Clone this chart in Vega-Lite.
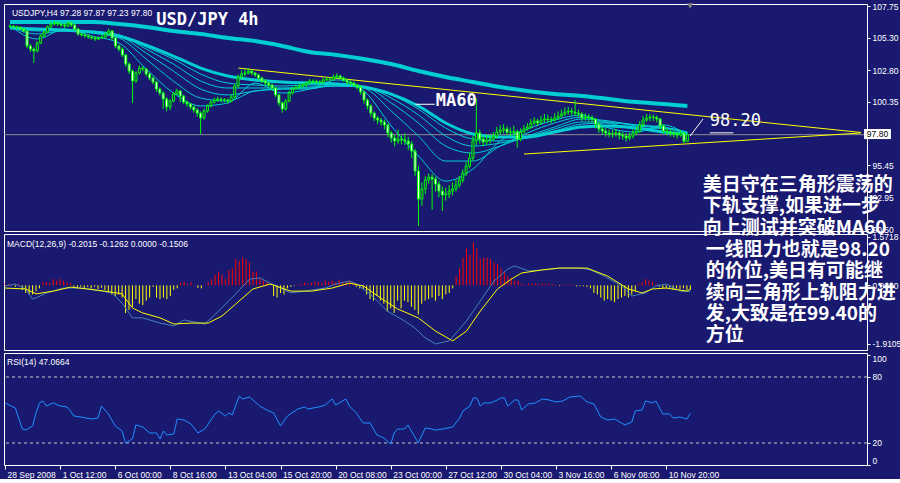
{
"$schema": "https://vega.github.io/schema/vega-lite/v6.json",
"background": "#191970",
"padding": {"left": 1, "top": 1, "right": 0, "bottom": 0},
"bounds": "flush",
"spacing": 3,
"config": {
  "view": {"stroke": "#FFFFFF", "strokeWidth": 1},
  "axis": {"labelColor": "#FFFFFF", "tickColor": "#FFFFFF", "domain": false, "grid": false, "labelFont": "Liberation Sans", "labelFontSize": 8.5, "tickSize": 3, "labelOverlap": false, "labelPadding": 2},
  "text": {"font": "Liberation Sans", "color": "#FFFFFF"}
},
"datasets": {
"bars": [
{"i":0,"o":106.15,"h":106.32,"l":106.05,"c":106.2,"m":0.05},
{"i":1,"o":106.2,"h":106.28,"l":106.02,"c":106.13,"m":0.05},
{"i":2,"o":106.13,"h":106.22,"l":105.98,"c":106.1,"m":0.03},
{"i":3,"o":106.1,"h":106.18,"l":105.9,"c":105.97,"m":-0.05},
{"i":4,"o":105.97,"h":106.05,"l":105.7,"c":105.82,"m":0.05},
{"i":5,"o":105.82,"h":105.9,"l":104.5,"c":104.66,"m":-0.15},
{"i":6,"o":104.66,"h":104.8,"l":104.2,"c":104.42,"m":-0.25},
{"i":7,"o":104.42,"h":104.55,"l":103.34,"c":104.27,"m":-0.3},
{"i":8,"o":104.27,"h":105.0,"l":104.15,"c":104.89,"m":-0.3},
{"i":9,"o":104.89,"h":105.55,"l":104.8,"c":105.43,"m":-0.2},
{"i":10,"o":105.43,"h":105.85,"l":105.35,"c":105.74,"m":-0.1},
{"i":11,"o":105.74,"h":106.25,"l":105.65,"c":106.13,"m":0.1},
{"i":12,"o":106.13,"h":106.5,"l":106.05,"c":106.36,"m":0.1},
{"i":13,"o":106.36,"h":106.6,"l":106.25,"c":106.44,"m":0.08},
{"i":14,"o":106.44,"h":106.55,"l":106.2,"c":106.36,"m":0.2},
{"i":15,"o":106.36,"h":106.45,"l":106.15,"c":106.28,"m":0.15},
{"i":16,"o":106.28,"h":106.4,"l":106.05,"c":106.2,"m":0.2},
{"i":17,"o":106.2,"h":106.58,"l":106.12,"c":106.44,"m":0.15},
{"i":18,"o":106.44,"h":106.52,"l":106.15,"c":106.28,"m":0.1},
{"i":19,"o":106.28,"h":106.35,"l":105.85,"c":105.97,"m":0.08},
{"i":20,"o":105.97,"h":106.05,"l":105.45,"c":105.58,"m":-0.05},
{"i":21,"o":105.58,"h":105.7,"l":105.4,"c":105.51,"m":-0.08},
{"i":22,"o":105.51,"h":105.62,"l":105.3,"c":105.43,"m":-0.05},
{"i":23,"o":105.43,"h":105.55,"l":105.22,"c":105.35,"m":-0.12},
{"i":24,"o":105.35,"h":105.45,"l":105.15,"c":105.28,"m":-0.05},
{"i":25,"o":105.28,"h":105.4,"l":105.05,"c":105.2,"m":-0.1},
{"i":26,"o":105.2,"h":105.4,"l":105.1,"c":105.28,"m":-0.05},
{"i":27,"o":105.28,"h":105.5,"l":105.2,"c":105.35,"m":-0.12},
{"i":28,"o":105.35,"h":105.7,"l":105.28,"c":105.58,"m":-0.08},
{"i":29,"o":105.58,"h":106.0,"l":105.5,"c":105.82,"m":-0.15},
{"i":30,"o":105.82,"h":105.9,"l":105.15,"c":105.28,"m":-0.2},
{"i":31,"o":105.28,"h":105.35,"l":104.5,"c":104.66,"m":-0.3},
{"i":32,"o":104.66,"h":104.75,"l":104.25,"c":104.42,"m":-0.35},
{"i":33,"o":104.42,"h":104.55,"l":103.8,"c":103.96,"m":-0.3},
{"i":34,"o":103.96,"h":104.05,"l":103.05,"c":103.26,"m":-0.4},
{"i":35,"o":103.26,"h":103.4,"l":102.5,"c":102.72,"m":-0.9},
{"i":36,"o":102.72,"h":102.85,"l":100.25,"c":101.95,"m":-0.8},
{"i":37,"o":101.95,"h":102.7,"l":101.8,"c":102.57,"m":-0.7},
{"i":38,"o":102.57,"h":103.15,"l":102.45,"c":102.95,"m":-0.45},
{"i":39,"o":102.95,"h":103.1,"l":102.7,"c":102.88,"m":-0.6},
{"i":40,"o":102.88,"h":102.95,"l":102.3,"c":102.49,"m":-0.65},
{"i":41,"o":102.49,"h":102.6,"l":102.0,"c":102.18,"m":-0.5},
{"i":42,"o":102.18,"h":102.3,"l":101.7,"c":101.87,"m":-0.4},
{"i":43,"o":101.87,"h":101.95,"l":101.1,"c":101.33,"m":-0.05},
{"i":44,"o":101.33,"h":101.45,"l":100.85,"c":101.02,"m":-0.4},
{"i":45,"o":101.02,"h":101.15,"l":99.8,"c":100.56,"m":-0.45},
{"i":46,"o":100.56,"h":100.7,"l":99.6,"c":99.94,"m":-0.4},
{"i":47,"o":99.94,"h":100.55,"l":99.7,"c":100.4,"m":-0.45},
{"i":48,"o":100.4,"h":101.1,"l":100.3,"c":100.94,"m":-0.35},
{"i":49,"o":100.94,"h":101.35,"l":100.85,"c":101.18,"m":-0.15},
{"i":50,"o":101.18,"h":101.25,"l":100.3,"c":100.79,"m":-0.1},
{"i":51,"o":100.79,"h":100.9,"l":100.15,"c":100.32,"m":0.08},
{"i":52,"o":100.32,"h":100.45,"l":99.95,"c":100.17,"m":0.12},
{"i":53,"o":100.17,"h":100.25,"l":99.75,"c":99.94,"m":0.05},
{"i":54,"o":99.94,"h":100.05,"l":99.5,"c":99.71,"m":0.1},
{"i":55,"o":99.71,"h":99.85,"l":99.2,"c":99.47,"m":0.02},
{"i":56,"o":99.47,"h":99.6,"l":97.85,"c":99.09,"m":-0.08},
{"i":57,"o":99.09,"h":99.8,"l":98.95,"c":99.63,"m":-0.1},
{"i":58,"o":99.63,"h":100.15,"l":99.5,"c":100.02,"m":0.02},
{"i":59,"o":100.02,"h":100.45,"l":99.9,"c":100.32,"m":0.1},
{"i":60,"o":100.32,"h":100.65,"l":100.2,"c":100.48,"m":0.2},
{"i":61,"o":100.48,"h":100.75,"l":100.35,"c":100.56,"m":0.35},
{"i":62,"o":100.56,"h":100.68,"l":100.3,"c":100.5,"m":0.45},
{"i":63,"o":100.5,"h":100.62,"l":100.3,"c":100.48,"m":0.35},
{"i":64,"o":100.48,"h":100.6,"l":100.2,"c":100.4,"m":0.2},
{"i":65,"o":100.4,"h":100.9,"l":100.3,"c":100.71,"m":0.5},
{"i":66,"o":100.71,"h":101.7,"l":100.6,"c":101.56,"m":0.55},
{"i":67,"o":101.56,"h":102.45,"l":101.45,"c":102.26,"m":0.85},
{"i":68,"o":102.26,"h":102.75,"l":102.1,"c":102.49,"m":0.8},
{"i":69,"o":102.49,"h":102.9,"l":102.3,"c":102.57,"m":0.9},
{"i":70,"o":102.57,"h":102.95,"l":102.45,"c":102.72,"m":0.85},
{"i":71,"o":102.72,"h":102.85,"l":102.4,"c":102.57,"m":0.75},
{"i":72,"o":102.57,"h":102.65,"l":102.25,"c":102.41,"m":0.45},
{"i":73,"o":102.41,"h":102.5,"l":102.0,"c":102.18,"m":0.45},
{"i":74,"o":102.18,"h":102.3,"l":101.8,"c":101.95,"m":0.25},
{"i":75,"o":101.95,"h":102.1,"l":101.6,"c":101.79,"m":0.15},
{"i":76,"o":101.79,"h":101.9,"l":101.45,"c":101.64,"m":0.1},
{"i":77,"o":101.64,"h":101.75,"l":101.2,"c":101.41,"m":0.02},
{"i":78,"o":101.41,"h":101.5,"l":100.7,"c":100.87,"m":-0.35},
{"i":79,"o":100.87,"h":100.95,"l":100.0,"c":100.25,"m":-0.4},
{"i":80,"o":100.25,"h":100.35,"l":99.5,"c":99.78,"m":-0.25},
{"i":81,"o":99.78,"h":100.55,"l":99.65,"c":100.4,"m":-0.3},
{"i":82,"o":100.4,"h":101.2,"l":100.3,"c":101.02,"m":-0.1},
{"i":83,"o":101.02,"h":101.5,"l":100.9,"c":101.33,"m":-0.05},
{"i":84,"o":101.33,"h":101.65,"l":101.25,"c":101.48,"m":-0.02},
{"i":85,"o":101.48,"h":101.75,"l":101.35,"c":101.56,"m":0.02},
{"i":86,"o":101.56,"h":101.8,"l":101.45,"c":101.64,"m":0.05},
{"i":87,"o":101.64,"h":101.95,"l":101.5,"c":101.79,"m":0.1},
{"i":88,"o":101.79,"h":102.1,"l":101.7,"c":101.95,"m":0.05},
{"i":89,"o":101.95,"h":102.08,"l":101.75,"c":101.9,"m":0.08},
{"i":90,"o":101.9,"h":102.05,"l":101.7,"c":101.87,"m":0.12},
{"i":91,"o":101.87,"h":102.0,"l":101.68,"c":101.84,"m":0.1},
{"i":92,"o":101.84,"h":102.2,"l":101.75,"c":102.03,"m":0.08},
{"i":93,"o":102.03,"h":102.28,"l":101.95,"c":102.1,"m":0.15},
{"i":94,"o":102.1,"h":102.25,"l":101.9,"c":102.06,"m":0.12},
{"i":95,"o":102.06,"h":102.45,"l":101.98,"c":102.26,"m":0.15},
{"i":96,"o":102.26,"h":102.55,"l":102.15,"c":102.34,"m":0.1},
{"i":97,"o":102.34,"h":102.45,"l":102.05,"c":102.18,"m":0.18},
{"i":98,"o":102.18,"h":102.3,"l":101.9,"c":102.03,"m":0.12},
{"i":99,"o":102.03,"h":102.15,"l":101.7,"c":101.87,"m":0.1},
{"i":100,"o":101.87,"h":102.0,"l":101.6,"c":101.79,"m":0.15},
{"i":101,"o":101.79,"h":101.9,"l":101.5,"c":101.64,"m":0.05},
{"i":102,"o":101.64,"h":101.75,"l":101.3,"c":101.48,"m":-0.05},
{"i":103,"o":101.48,"h":101.6,"l":100.9,"c":101.1,"m":-0.1},
{"i":104,"o":101.1,"h":101.2,"l":100.2,"c":100.48,"m":-0.12},
{"i":105,"o":100.48,"h":100.6,"l":99.75,"c":100.02,"m":-0.3},
{"i":106,"o":100.02,"h":100.15,"l":99.2,"c":99.47,"m":-0.45},
{"i":107,"o":99.47,"h":99.6,"l":98.85,"c":99.09,"m":-0.5},
{"i":108,"o":99.09,"h":99.25,"l":98.6,"c":98.93,"m":-0.35},
{"i":109,"o":98.93,"h":99.1,"l":98.5,"c":98.78,"m":-0.5},
{"i":110,"o":98.78,"h":98.95,"l":98.2,"c":98.55,"m":-0.6},
{"i":111,"o":98.55,"h":98.65,"l":97.6,"c":97.93,"m":-0.85},
{"i":112,"o":97.93,"h":98.1,"l":97.2,"c":97.54,"m":-0.75},
{"i":113,"o":97.54,"h":97.8,"l":96.9,"c":97.31,"m":-0.9},
{"i":114,"o":97.31,"h":98.2,"l":97.1,"c":97.46,"m":-0.5},
{"i":115,"o":97.46,"h":97.75,"l":97.05,"c":97.39,"m":-0.75},
{"i":116,"o":97.39,"h":97.9,"l":97.0,"c":97.31,"m":-0.5},
{"i":117,"o":97.31,"h":97.6,"l":96.6,"c":97.08,"m":-0.55},
{"i":118,"o":97.08,"h":97.3,"l":96.0,"c":96.53,"m":-0.7},
{"i":119,"o":96.53,"h":96.7,"l":94.6,"c":94.99,"m":-0.8},
{"i":120,"o":94.99,"h":95.4,"l":90.74,"c":92.82,"m":-0.95},
{"i":121,"o":92.82,"h":94.1,"l":92.3,"c":93.6,"m":-0.6},
{"i":122,"o":93.6,"h":94.6,"l":93.2,"c":94.29,"m":-0.5},
{"i":123,"o":94.29,"h":94.8,"l":94.0,"c":94.52,"m":-0.45},
{"i":124,"o":94.52,"h":94.75,"l":92.0,"c":94.37,"m":-0.4},
{"i":125,"o":94.37,"h":94.55,"l":93.4,"c":93.98,"m":-0.5},
{"i":126,"o":93.98,"h":94.2,"l":92.95,"c":93.44,"m":-0.35},
{"i":127,"o":93.44,"h":93.8,"l":91.9,"c":93.13,"m":-0.45},
{"i":128,"o":93.13,"h":93.7,"l":92.7,"c":93.21,"m":-0.3},
{"i":129,"o":93.21,"h":93.9,"l":92.9,"c":93.44,"m":-0.25},
{"i":130,"o":93.44,"h":94.1,"l":93.1,"c":93.6,"m":-0.1},
{"i":131,"o":93.6,"h":94.3,"l":93.4,"c":93.9,"m":0.3},
{"i":132,"o":93.9,"h":94.6,"l":93.7,"c":94.29,"m":0.55},
{"i":133,"o":94.29,"h":95.1,"l":94.1,"c":94.83,"m":0.9},
{"i":134,"o":94.83,"h":95.7,"l":94.6,"c":95.37,"m":1.2},
{"i":135,"o":95.37,"h":96.4,"l":95.2,"c":95.99,"m":1.0},
{"i":136,"o":95.99,"h":97.7,"l":95.8,"c":97.31,"m":1.4},
{"i":137,"o":97.31,"h":100.6,"l":97.0,"c":97.93,"m":1.2},
{"i":138,"o":97.93,"h":98.2,"l":97.1,"c":97.46,"m":0.85},
{"i":139,"o":97.46,"h":97.7,"l":96.9,"c":97.23,"m":0.9},
{"i":140,"o":97.23,"h":97.8,"l":97.0,"c":97.39,"m":0.9},
{"i":141,"o":97.39,"h":97.85,"l":97.1,"c":97.46,"m":0.85},
{"i":142,"o":97.46,"h":98.0,"l":97.3,"c":97.69,"m":0.75},
{"i":143,"o":97.69,"h":98.4,"l":97.5,"c":98.0,"m":0.7},
{"i":144,"o":98.0,"h":98.55,"l":97.8,"c":98.16,"m":0.55},
{"i":145,"o":98.16,"h":98.6,"l":97.9,"c":98.24,"m":0.45},
{"i":146,"o":98.24,"h":98.45,"l":97.75,"c":98.0,"m":0.3},
{"i":147,"o":98.0,"h":98.35,"l":97.7,"c":97.96,"m":0.25},
{"i":148,"o":97.96,"h":98.5,"l":97.7,"c":98.04,"m":0.15},
{"i":149,"o":98.04,"h":98.2,"l":96.8,"c":97.46,"m":0.15},
{"i":150,"o":97.46,"h":98.3,"l":97.3,"c":98.0,"m":0.05},
{"i":151,"o":98.0,"h":98.55,"l":97.9,"c":98.24,"m":0.02},
{"i":152,"o":98.24,"h":98.7,"l":98.1,"c":98.39,"m":0.05},
{"i":153,"o":98.39,"h":99.0,"l":98.25,"c":98.7,"m":0.06},
{"i":154,"o":98.7,"h":99.15,"l":98.55,"c":98.86,"m":0.06},
{"i":155,"o":98.86,"h":99.05,"l":98.45,"c":98.7,"m":0.05},
{"i":156,"o":98.7,"h":99.25,"l":98.6,"c":98.93,"m":0.06},
{"i":157,"o":98.93,"h":99.4,"l":98.75,"c":99.01,"m":0.05},
{"i":158,"o":99.01,"h":99.35,"l":98.7,"c":98.97,"m":0.06},
{"i":159,"o":98.97,"h":99.2,"l":98.65,"c":98.93,"m":0.04},
{"i":160,"o":98.93,"h":99.45,"l":98.8,"c":99.09,"m":0.02},
{"i":161,"o":99.09,"h":99.6,"l":98.95,"c":99.24,"m":-0.02},
{"i":162,"o":99.24,"h":99.75,"l":99.1,"c":99.4,"m":0.03},
{"i":163,"o":99.4,"h":99.9,"l":99.25,"c":99.55,"m":0.02},
{"i":164,"o":99.55,"h":99.95,"l":99.35,"c":99.63,"m":0.03},
{"i":165,"o":99.63,"h":99.85,"l":99.3,"c":99.55,"m":0.02},
{"i":166,"o":99.55,"h":100.48,"l":99.25,"c":99.47,"m":-0.04},
{"i":167,"o":99.47,"h":99.75,"l":99.15,"c":99.4,"m":-0.03},
{"i":168,"o":99.4,"h":99.55,"l":98.85,"c":99.09,"m":-0.03},
{"i":169,"o":99.09,"h":99.45,"l":98.9,"c":99.16,"m":-0.05},
{"i":170,"o":99.16,"h":99.4,"l":98.85,"c":99.12,"m":-0.1},
{"i":171,"o":99.12,"h":99.3,"l":98.75,"c":99.01,"m":-0.25},
{"i":172,"o":99.01,"h":99.1,"l":98.3,"c":98.62,"m":-0.3},
{"i":173,"o":98.62,"h":98.75,"l":97.95,"c":98.24,"m":-0.4},
{"i":174,"o":98.24,"h":98.4,"l":97.8,"c":98.08,"m":-0.5},
{"i":175,"o":98.08,"h":98.3,"l":97.65,"c":97.93,"m":-0.45},
{"i":176,"o":97.93,"h":98.2,"l":97.6,"c":97.85,"m":-0.5},
{"i":177,"o":97.85,"h":98.15,"l":97.55,"c":97.88,"m":-0.55},
{"i":178,"o":97.88,"h":98.25,"l":97.65,"c":97.93,"m":-0.45},
{"i":179,"o":97.93,"h":98.1,"l":97.45,"c":97.77,"m":-0.4},
{"i":180,"o":97.77,"h":98.0,"l":97.4,"c":97.69,"m":-0.35},
{"i":181,"o":97.69,"h":97.9,"l":97.25,"c":97.54,"m":-0.4},
{"i":182,"o":97.54,"h":97.95,"l":97.35,"c":97.69,"m":-0.3},
{"i":183,"o":97.69,"h":98.2,"l":97.5,"c":97.93,"m":-0.2},
{"i":184,"o":97.93,"h":98.4,"l":97.75,"c":98.08,"m":0.05},
{"i":185,"o":98.08,"h":98.85,"l":97.95,"c":98.55,"m":0.1},
{"i":186,"o":98.55,"h":99.25,"l":98.4,"c":98.93,"m":0.2},
{"i":187,"o":98.93,"h":99.4,"l":98.8,"c":99.09,"m":0.15},
{"i":188,"o":99.09,"h":99.4,"l":98.85,"c":99.16,"m":0.12},
{"i":189,"o":99.16,"h":99.35,"l":98.85,"c":99.12,"m":0.05},
{"i":190,"o":99.12,"h":99.3,"l":98.75,"c":99.01,"m":-0.05},
{"i":191,"o":99.01,"h":99.1,"l":98.2,"c":98.47,"m":-0.1},
{"i":192,"o":98.47,"h":98.6,"l":97.85,"c":98.08,"m":-0.1},
{"i":193,"o":98.08,"h":98.3,"l":97.75,"c":98.0,"m":-0.08},
{"i":194,"o":98.0,"h":98.2,"l":97.65,"c":97.93,"m":-0.15},
{"i":195,"o":97.93,"h":98.1,"l":97.6,"c":97.85,"m":-0.1},
{"i":196,"o":97.85,"h":98.05,"l":97.5,"c":97.77,"m":-0.12},
{"i":197,"o":97.77,"h":98.15,"l":97.65,"c":97.93,"m":-0.1},
{"i":198,"o":97.93,"h":98.0,"l":97.15,"c":97.28,"m":-0.15},
{"i":199,"o":97.28,"h":97.87,"l":97.23,"c":97.8,"m":-0.15}
],
"ma": [
{"i":0,"s":106.51,"m":106.05,"r1":106.2,"r2":106.13,"r3":106.13,"r4":106.05,"r5":106.05},
{"i":8,"s":106.51,"m":105.97,"r1":105.2,"r2":105.59,"r3":105.82,"r4":105.89,"r5":105.97},
{"i":16,"s":106.51,"m":105.89,"r1":105.97,"r2":105.82,"r3":105.82,"r4":105.89,"r5":105.89},
{"i":24,"s":106.51,"m":105.74,"r1":105.43,"r2":105.66,"r3":105.74,"r4":105.74,"r5":105.82},
{"i":32,"s":106.36,"m":105.43,"r1":104.89,"r2":105.28,"r3":105.43,"r4":105.51,"r5":105.51},
{"i":40,"s":106.13,"m":104.73,"r1":102.88,"r2":103.65,"r3":104.11,"r4":104.42,"r5":104.58},
{"i":48,"s":105.82,"m":103.88,"r1":101.02,"r2":101.95,"r3":102.72,"r4":103.26,"r5":103.65},
{"i":56,"s":105.59,"m":102.95,"r1":100.02,"r2":100.63,"r3":101.33,"r4":101.95,"r5":102.49},
{"i":64,"s":105.28,"m":102.34,"r1":100.25,"r2":100.4,"r3":100.87,"r4":101.41,"r5":101.79},
{"i":72,"s":105.04,"m":102.03,"r1":101.79,"r2":101.18,"r3":101.18,"r4":101.41,"r5":101.64},
{"i":80,"s":104.66,"m":101.87,"r1":101.02,"r2":101.33,"r3":101.33,"r4":101.41,"r5":101.56},
{"i":88,"s":104.19,"m":101.79,"r1":101.33,"r2":101.33,"r3":101.41,"r4":101.48,"r5":101.64},
{"i":96,"s":103.96,"m":101.72,"r1":102.03,"r2":101.72,"r3":101.56,"r4":101.56,"r5":101.64},
{"i":104,"s":103.65,"m":101.48,"r1":101.18,"r2":101.41,"r3":101.48,"r4":101.48,"r5":101.48},
{"i":112,"s":103.26,"m":100.94,"r1":98.47,"r2":99.63,"r3":100.25,"r4":100.63,"r5":100.87},
{"i":120,"s":102.72,"m":100.02,"r1":96.15,"r2":97.69,"r3":98.7,"r4":99.32,"r5":99.78},
{"i":128,"s":102.26,"m":98.7,"r1":94.21,"r2":95.76,"r3":96.92,"r4":97.69,"r5":98.31},
{"i":136,"s":101.87,"m":97.85,"r1":95.14,"r2":95.76,"r3":96.38,"r4":96.92,"r5":97.46},
{"i":144,"s":101.48,"m":97.62,"r1":97.31,"r2":96.92,"r3":96.92,"r4":97.15,"r5":97.31},
{"i":152,"s":101.18,"m":97.62,"r1":98.24,"r2":97.93,"r3":97.69,"r4":97.62,"r5":97.54},
{"i":160,"s":100.94,"m":98.0,"r1":98.93,"r2":98.7,"r3":98.39,"r4":98.24,"r5":98.08},
{"i":168,"s":100.79,"m":98.39,"r1":99.32,"r2":99.16,"r3":99.01,"r4":98.78,"r5":98.62},
{"i":176,"s":100.56,"m":98.47,"r1":98.31,"r2":98.7,"r3":98.86,"r4":98.78,"r5":98.7},
{"i":184,"s":100.32,"m":98.31,"r1":98.0,"r2":98.24,"r3":98.47,"r4":98.55,"r5":98.55},
{"i":192,"s":100.17,"m":98.0,"r1":98.55,"r2":98.31,"r3":98.31,"r4":98.39,"r5":98.31},
{"i":199,"s":100.02,"m":97.85,"r1":97.77,"r2":97.93,"r3":98.0,"r4":98.0,"r5":97.93}
],
"mm": [
{"i":0,"v":-0.02},{"i":3,"v":0.04},{"i":6,"v":-0.12},{"i":8,"v":-0.45},{"i":9,"v":-0.41},{"i":12,"v":-0.25},{"i":17,"v":-0.09},{"i":22,"v":-0.09},{"i":28,"v":-0.19},{"i":31,"v":-0.25},{"i":34,"v":-0.58},{"i":37,"v":-1.06},{"i":40,"v":-1.06},{"i":45,"v":-1.23},{"i":49,"v":-1.32},{"i":52,"v":-1.13},{"i":58,"v":-1.26},{"i":62,"v":-0.84},{"i":67,"v":-0.28},{"i":71,"v":0.2},{"i":74,"v":0.24},{"i":77,"v":0.07},{"i":80,"v":-0.09},{"i":83,"v":-0.25},{"i":87,"v":-0.19},{"i":93,"v":-0.09},{"i":96,"v":0.04},{"i":100,"v":0.14},{"i":102,"v":0.04},{"i":106,"v":-0.28},{"i":111,"v":-0.84},{"i":116,"v":-1.16},{"i":119,"v":-1.39},{"i":122,"v":-1.71},{"i":125,"v":-1.91},{"i":129,"v":-1.81},{"i":134,"v":-1.16},{"i":138,"v":-0.51},{"i":142,"v":0.14},{"i":146,"v":0.53},{"i":148,"v":0.63},{"i":152,"v":0.47},{"i":156,"v":0.5},{"i":161,"v":0.56},{"i":167,"v":0.56},{"i":170,"v":0.5},{"i":174,"v":0.3},{"i":179,"v":-0.02},{"i":182,"v":-0.35},{"i":186,"v":-0.25},{"i":189,"v":-0.02},{"i":192,"v":0.04},{"i":196,"v":-0.19},{"i":199,"v":-0.2}
],
"ms": [
{"i":0,"v":-0.09},{"i":6,"v":-0.12},{"i":9,"v":-0.28},{"i":14,"v":-0.19},{"i":19,"v":-0.06},{"i":24,"v":-0.12},{"i":29,"v":-0.19},{"i":34,"v":-0.28},{"i":37,"v":-0.74},{"i":40,"v":-0.9},{"i":45,"v":-1.06},{"i":49,"v":-1.26},{"i":54,"v":-1.23},{"i":59,"v":-1.23},{"i":63,"v":-1.0},{"i":67,"v":-0.61},{"i":72,"v":-0.12},{"i":77,"v":0.04},{"i":83,"v":-0.19},{"i":89,"v":-0.19},{"i":95,"v":-0.09},{"i":100,"v":0.07},{"i":104,"v":-0.02},{"i":109,"v":-0.41},{"i":114,"v":-0.77},{"i":120,"v":-1.06},{"i":125,"v":-1.49},{"i":130,"v":-1.81},{"i":134,"v":-1.49},{"i":138,"v":-0.84},{"i":143,"v":-0.12},{"i":147,"v":0.2},{"i":150,"v":0.4},{"i":156,"v":0.5},{"i":161,"v":0.56},{"i":169,"v":0.56},{"i":175,"v":0.3},{"i":181,"v":-0.12},{"i":185,"v":-0.25},{"i":188,"v":-0.12},{"i":192,"v":-0.09},{"i":198,"v":-0.19},{"i":199,"v":-0.13}
],
"rsi": [
{"i":0,"r":56.4},{"i":3,"r":51.8},{"i":5,"r":32.7},{"i":6,"r":31.8},{"i":8,"r":35.5},{"i":9,"r":47.3},{"i":10,"r":56.4},{"i":11,"r":58.2},{"i":12,"r":53.6},{"i":14,"r":56.4},{"i":16,"r":53.6},{"i":18,"r":52.7},{"i":19,"r":49.1},{"i":20,"r":44.5},{"i":22,"r":43.6},{"i":25,"r":41.8},{"i":27,"r":42.7},{"i":28,"r":53.6},{"i":30,"r":46.4},{"i":32,"r":35.5},{"i":34,"r":30.9},{"i":35,"r":20.0},{"i":37,"r":23.6},{"i":38,"r":36.4},{"i":40,"r":34.5},{"i":42,"r":29.1},{"i":44,"r":29.1},{"i":45,"r":23.6},{"i":46,"r":30.9},{"i":47,"r":27.3},{"i":49,"r":28.2},{"i":50,"r":41.8},{"i":52,"r":40.9},{"i":54,"r":37.3},{"i":56,"r":29.1},{"i":58,"r":32.7},{"i":61,"r":46.4},{"i":62,"r":49.1},{"i":64,"r":44.5},{"i":65,"r":47.3},{"i":66,"r":45.5},{"i":68,"r":62.7},{"i":69,"r":60.0},{"i":71,"r":61.8},{"i":74,"r":53.6},{"i":76,"r":50.0},{"i":78,"r":47.3},{"i":80,"r":35.5},{"i":82,"r":44.5},{"i":85,"r":50.9},{"i":87,"r":52.7},{"i":88,"r":50.9},{"i":91,"r":52.7},{"i":93,"r":54.5},{"i":95,"r":60.0},{"i":96,"r":54.5},{"i":99,"r":60.0},{"i":100,"r":53.6},{"i":102,"r":47.3},{"i":104,"r":38.2},{"i":106,"r":38.2},{"i":108,"r":27.3},{"i":110,"r":24.5},{"i":112,"r":19.1},{"i":113,"r":29.1},{"i":114,"r":32.7},{"i":116,"r":32.7},{"i":117,"r":36.4},{"i":118,"r":30.9},{"i":120,"r":20.0},{"i":122,"r":33.6},{"i":124,"r":32.7},{"i":125,"r":31.8},{"i":127,"r":32.7},{"i":130,"r":34.5},{"i":132,"r":42.7},{"i":133,"r":49.1},{"i":135,"r":53.6},{"i":136,"r":60.9},{"i":137,"r":60.9},{"i":138,"r":53.6},{"i":139,"r":56.4},{"i":141,"r":56.4},{"i":143,"r":59.1},{"i":144,"r":60.9},{"i":145,"r":60.9},{"i":146,"r":53.6},{"i":148,"r":59.1},{"i":149,"r":59.1},{"i":150,"r":50.0},{"i":152,"r":55.5},{"i":154,"r":56.4},{"i":156,"r":60.0},{"i":158,"r":59.1},{"i":160,"r":57.3},{"i":162,"r":58.2},{"i":164,"r":61.8},{"i":167,"r":62.7},{"i":169,"r":57.3},{"i":171,"r":55.5},{"i":173,"r":43.6},{"i":175,"r":40.9},{"i":177,"r":41.8},{"i":179,"r":38.2},{"i":180,"r":36.4},{"i":182,"r":39.1},{"i":183,"r":49.1},{"i":185,"r":50.0},{"i":186,"r":58.2},{"i":188,"r":56.4},{"i":189,"r":58.2},{"i":191,"r":46.4},{"i":193,"r":46.4},{"i":194,"r":42.7},{"i":196,"r":43.6},{"i":198,"r":41.8},{"i":199,"r":47.1}
]
},
"vconcat": [
{
 "width": 863, "height": 227,
 "resolve": {"axis": {"x": "independent", "y": "independent"}},
 "layer": [
  {"data": {"values": [{"p": 97.8}]},
   "mark": {"type": "rule", "color": "#8C8C8C", "strokeWidth": 1},
   "encoding": {"y": {"field": "p", "type": "quantitative", "scale": {"domain": [90.35, 107.905], "nice": false, "zero": false},
     "axis": {"orient": "right", "title": null, "values": [107.75, 105.3, 102.8, 100.35, 95.45, 92.95, 90.5], "format": ".2f"}}}},
  {"data": {"name": "ma"}, "transform": [{"fold": ["r1", "r2", "r3", "r4", "r5"], "as": ["k", "v"]}],
   "mark": {"type": "line", "color": "#00CED1", "strokeWidth": 1, "interpolate": "monotone"},
   "encoding": {"x": {"field": "i", "type": "quantitative", "scale": {"domain": [-0.3, 250.3], "nice": false, "zero": false}, "axis": null},
     "y": {"field": "v", "type": "quantitative", "scale": {"domain": [90.35, 107.905], "nice": false, "zero": false}, "axis": null},
     "detail": {"field": "k", "type": "nominal"}}},
  {"data": {"name": "ma"},
   "mark": {"type": "line", "color": "#00CED1", "strokeWidth": 3, "interpolate": "monotone"},
   "encoding": {"x": {"field": "i", "type": "quantitative", "scale": {"domain": [-0.3, 250.3], "nice": false, "zero": false}, "axis": null},
     "y": {"field": "m", "type": "quantitative", "scale": {"domain": [90.35, 107.905], "nice": false, "zero": false}, "axis": null}}},
  {"data": {"name": "ma"},
   "mark": {"type": "line", "color": "#00CED1", "strokeWidth": 4, "interpolate": "monotone"},
   "encoding": {"x": {"field": "i", "type": "quantitative", "scale": {"domain": [-0.3, 250.3], "nice": false, "zero": false}, "axis": null},
     "y": {"field": "s", "type": "quantitative", "scale": {"domain": [90.35, 107.905], "nice": false, "zero": false}, "axis": null}}},
  {"data": {"values": [{"i": 67.1, "p": 102.95, "g": "u"}, {"i": 250, "p": 97.97, "g": "u"}, {"i": 151, "p": 96.3, "g": "d"}, {"i": 250, "p": 97.93, "g": "d"}]},
   "mark": {"type": "line", "color": "#FFFF00", "strokeWidth": 1},
   "encoding": {"x": {"field": "i", "type": "quantitative", "scale": {"domain": [-0.3, 250.3], "nice": false, "zero": false}, "axis": null},
     "y": {"field": "p", "type": "quantitative", "scale": {"domain": [90.35, 107.905], "nice": false, "zero": false}, "axis": null},
     "detail": {"field": "g", "type": "nominal"}}},
  {"data": {"name": "bars"},
   "mark": {"type": "rule", "color": "#00FF00", "strokeWidth": 1},
   "encoding": {"x": {"field": "i", "type": "quantitative", "scale": {"domain": [-0.3, 250.3], "nice": false, "zero": false}, "axis": null},
     "y": {"field": "l", "type": "quantitative", "scale": {"domain": [90.35, 107.905], "nice": false, "zero": false}, "axis": null},
     "y2": {"field": "h"}}},
  {"data": {"name": "bars"},
   "mark": {"type": "bar", "width": 2, "stroke": "#00FF00", "strokeWidth": 1},
   "encoding": {"x": {"field": "i", "type": "quantitative", "scale": {"domain": [-0.3, 250.3], "nice": false, "zero": false}, "axis": null},
     "y": {"field": "o", "type": "quantitative", "scale": {"domain": [90.35, 107.905], "nice": false, "zero": false}, "axis": null},
     "y2": {"field": "c"},
     "fill": {"condition": {"test": "datum.c < datum.o", "value": "#FFFFFF"}, "value": "#191970"}}},
  {"data": {"values": [{"i": 119.1, "p": 100.15, "g": "a"}, {"i": 124.8, "p": 100.15, "g": "a"}, {"i": 199.8, "p": 97.7, "g": "b"}, {"i": 203.6, "p": 99.01, "g": "b"}, {"i": 205.6, "p": 97.94, "g": "c"}, {"i": 212.5, "p": 97.94, "g": "c"}]},
   "mark": {"type": "line", "color": "#FFFFFF", "strokeWidth": 1},
   "encoding": {"x": {"field": "i", "type": "quantitative", "scale": {"domain": [-0.3, 250.3], "nice": false, "zero": false}, "axis": null},
     "y": {"field": "p", "type": "quantitative", "scale": {"domain": [90.35, 107.905], "nice": false, "zero": false}, "axis": null},
     "detail": {"field": "g", "type": "nominal"}}},
  {"data": {"values": [{"i": 0.57, "p": 107.21, "t": "USDJPY,H4  97.28 97.87 97.23 97.80"}]},
   "mark": {"type": "text", "align": "left", "baseline": "middle", "fontSize": 8.5, "font": "Liberation Sans", "color": "#FFFFFF"},
   "encoding": {"x": {"field": "i", "type": "quantitative", "scale": {"domain": [-0.3, 250.3], "nice": false, "zero": false}, "axis": null},
     "y": {"field": "p", "type": "quantitative", "scale": {"domain": [90.35, 107.905], "nice": false, "zero": false}, "axis": null},
     "text": {"field": "t"}}},
  {"data": {"values": [{"i": 42.96, "p": 106.63, "t": "USD/JPY 4h"}, {"i": 125.1, "p": 100.44, "t": "MA60"}]},
   "mark": {"type": "text", "align": "left", "baseline": "middle", "fontSize": 17, "font": "DejaVu Sans Mono", "fontWeight": "bold", "color": "#FFFFFF"},
   "encoding": {"x": {"field": "i", "type": "quantitative", "scale": {"domain": [-0.3, 250.3], "nice": false, "zero": false}, "axis": null},
     "y": {"field": "p", "type": "quantitative", "scale": {"domain": [90.35, 107.905], "nice": false, "zero": false}, "axis": null},
     "text": {"field": "t"}}},
  {"data": {"values": [{"i": 205.6, "p": 98.82, "t": "98.20"}]},
   "mark": {"type": "text", "align": "left", "baseline": "middle", "fontSize": 17, "font": "DejaVu Sans Mono", "color": "#FFFFFF"},
   "encoding": {"x": {"field": "i", "type": "quantitative", "scale": {"domain": [-0.3, 250.3], "nice": false, "zero": false}, "axis": null},
     "y": {"field": "p", "type": "quantitative", "scale": {"domain": [90.35, 107.905], "nice": false, "zero": false}, "axis": null},
     "text": {"field": "t"}}},
  {"data": {"values": [{"i": 250.9, "i2": 258.8, "p": 98.24, "p2": 97.46}]},
   "mark": {"type": "rect", "fill": "#FFFFFF"},
   "encoding": {"x": {"field": "i", "type": "quantitative", "scale": {"domain": [-0.3, 250.3], "nice": false, "zero": false}, "axis": null},
     "x2": {"field": "i2"},
     "y": {"field": "p", "type": "quantitative", "scale": {"domain": [90.35, 107.905], "nice": false, "zero": false}, "axis": null},
     "y2": {"field": "p2"}}},
  {"data": {"values": [{"i": 254.85, "p": 97.85, "t": "97.80"}]},
   "mark": {"type": "text", "align": "center", "baseline": "middle", "fontSize": 8.5, "font": "Liberation Sans", "color": "#000000"},
   "encoding": {"x": {"field": "i", "type": "quantitative", "scale": {"domain": [-0.3, 250.3], "nice": false, "zero": false}, "axis": null},
     "y": {"field": "p", "type": "quantitative", "scale": {"domain": [90.35, 107.905], "nice": false, "zero": false}, "axis": null},
     "text": {"field": "t"}}},
  {"data": {"values": [{"i": 199.8, "p": 107.75}]},
   "mark": {"type": "point", "shape": "triangle-down", "filled": true, "color": "#808080", "size": 40, "opacity": 1},
   "encoding": {"x": {"field": "i", "type": "quantitative", "scale": {"domain": [-0.3, 250.3], "nice": false, "zero": false}, "axis": null},
     "y": {"field": "p", "type": "quantitative", "scale": {"domain": [90.35, 107.905], "nice": false, "zero": false}, "axis": null}}},
  {"data": {"values": [{"i": 203.5, "p": 93.9, "t": "美日守在三角形震荡的"}, {"i": 203.5, "p": 92.28, "t": "下轨支撑,如果进一步"}, {"i": 203.5, "p": 90.58, "t": "向上测试并突破MA60"}]},
   "mark": {"type": "text", "align": "left", "baseline": "middle", "fontSize": 19, "font": "Noto Sans CJK SC", "fontWeight": "bold", "color": "#FFFFFF"},
   "encoding": {"x": {"field": "i", "type": "quantitative", "scale": {"domain": [-0.3, 250.3], "nice": false, "zero": false}, "axis": null},
     "y": {"field": "p", "type": "quantitative", "scale": {"domain": [90.35, 107.905], "nice": false, "zero": false}, "axis": null},
     "text": {"field": "t"}}}
 ]
},
{
 "width": 863, "height": 116,
 "resolve": {"axis": {"x": "independent", "y": "independent"}},
 "layer": [
  {"data": {"name": "bars"},
   "mark": {"type": "rule", "strokeWidth": 1},
   "encoding": {"x": {"field": "i", "type": "quantitative", "scale": {"domain": [-0.3, 250.3], "nice": false, "zero": false}, "axis": null},
     "y": {"field": "m", "type": "quantitative", "scale": {"domain": [-2.106, 1.669], "nice": false, "zero": false},
       "axis": {"orient": "right", "title": null, "values": [1.5718, 0, -1.9105], "format": ".4f", "labelExpr": "replace(datum.label, '\u2212', '-')"}},
     "y2": {"datum": 0},
     "color": {"condition": {"test": "datum.m > 0", "value": "#FF0000"}, "value": "#FFFF00"}}},
  {"data": {"name": "mm"},
   "mark": {"type": "line", "color": "#4682B4", "strokeWidth": 1},
   "encoding": {"x": {"field": "i", "type": "quantitative", "scale": {"domain": [-0.3, 250.3], "nice": false, "zero": false}, "axis": null},
     "y": {"field": "v", "type": "quantitative", "scale": {"domain": [-2.106, 1.669], "nice": false, "zero": false}, "axis": null}}},
  {"data": {"name": "ms"},
   "mark": {"type": "line", "color": "#FFFF00", "strokeWidth": 1},
   "encoding": {"x": {"field": "i", "type": "quantitative", "scale": {"domain": [-0.3, 250.3], "nice": false, "zero": false}, "axis": null},
     "y": {"field": "v", "type": "quantitative", "scale": {"domain": [-2.106, 1.669], "nice": false, "zero": false}, "axis": null}}},
  {"data": {"values": [{"i": 0.57, "v": 1.344, "t": "MACD(12,26,9) -0.2015 -0.1262 0.0000 -0.1506"}]},
   "mark": {"type": "text", "align": "left", "baseline": "middle", "fontSize": 8.5, "font": "Liberation Sans", "color": "#FFFFFF"},
   "encoding": {"x": {"field": "i", "type": "quantitative", "scale": {"domain": [-0.3, 250.3], "nice": false, "zero": false}, "axis": null},
     "y": {"field": "v", "type": "quantitative", "scale": {"domain": [-2.106, 1.669], "nice": false, "zero": false}, "axis": null},
     "text": {"field": "t"}}},
  {"data": {"values": [{"i": 203.5, "v": 1.149, "t": "一线阻力也就是98.20"}, {"i": 203.5, "v": 0.465, "t": "的价位,美日有可能继"}, {"i": 203.5, "v": -0.251, "t": "续向三角形上轨阻力进"}, {"i": 203.5, "v": -0.934, "t": "发,大致是在99.40的"}, {"i": 203.5, "v": -1.617, "t": "方位"}]},
   "mark": {"type": "text", "align": "left", "baseline": "middle", "fontSize": 19, "font": "Noto Sans CJK SC", "fontWeight": "bold", "color": "#FFFFFF"},
   "encoding": {"x": {"field": "i", "type": "quantitative", "scale": {"domain": [-0.3, 250.3], "nice": false, "zero": false}, "axis": null},
     "y": {"field": "v", "type": "quantitative", "scale": {"domain": [-2.106, 1.669], "nice": false, "zero": false}, "axis": null},
     "text": {"field": "t"}}}
 ]
},
{
 "width": 863, "height": 112,
 "resolve": {"axis": {"x": "independent", "y": "independent"}},
 "layer": [
  {"data": {"values": [{"r": 80}, {"r": 20}]},
   "mark": {"type": "rule", "color": "#C8C8C8", "strokeWidth": 1, "strokeDash": [3, 3]},
   "encoding": {"y": {"field": "r", "type": "quantitative", "scale": {"domain": [0, 101.8], "nice": false, "zero": false},
     "axis": {"orient": "right", "title": null, "values": [100, 80, 20, 0],
       "labelBaseline": {"condition": [{"test": "datum.value == 100", "value": "top"}, {"test": "datum.value == 0", "value": "bottom"}], "value": "middle"}}}}},
  {"data": {"name": "rsi"},
   "mark": {"type": "line", "color": "#1E90FF", "strokeWidth": 1},
   "encoding": {"x": {"field": "i", "type": "quantitative", "scale": {"domain": [-0.3, 250.3], "nice": false, "zero": false},
       "axis": {"orient": "bottom", "title": null, "values": [0, 16, 32, 48, 64, 80, 96, 112, 128, 144, 160, 176, 192],
         "labelExpr": "['28 Sep 2008','1 Oct 12:00','6 Oct 00:00','8 Oct 16:00','13 Oct 04:00','15 Oct 20:00','20 Oct 08:00','23 Oct 00:00','27 Oct 12:00','30 Oct 04:00','3 Nov 16:00','6 Nov 08:00','10 Nov 20:00'][round(datum.value / 16)]",
         "labelAlign": "left", "labelOffset": 2, "labelPadding": 1, "labelBaseline": "top", "tickSize": 4, "labelFlush": false}},
     "y": {"field": "r", "type": "quantitative", "scale": {"domain": [0, 101.8], "nice": false, "zero": false}, "axis": null}}},
  {"data": {"values": [{"i": 0.57, "r": 93.6, "t": "RSI(14) 47.0664"}]},
   "mark": {"type": "text", "align": "left", "baseline": "middle", "fontSize": 8.5, "font": "Liberation Sans", "color": "#FFFFFF"},
   "encoding": {"x": {"field": "i", "type": "quantitative", "scale": {"domain": [-0.3, 250.3], "nice": false, "zero": false}, "axis": null},
     "y": {"field": "r", "type": "quantitative", "scale": {"domain": [0, 101.8], "nice": false, "zero": false}, "axis": null},
     "text": {"field": "t"}}}
 ]
}
]
}
